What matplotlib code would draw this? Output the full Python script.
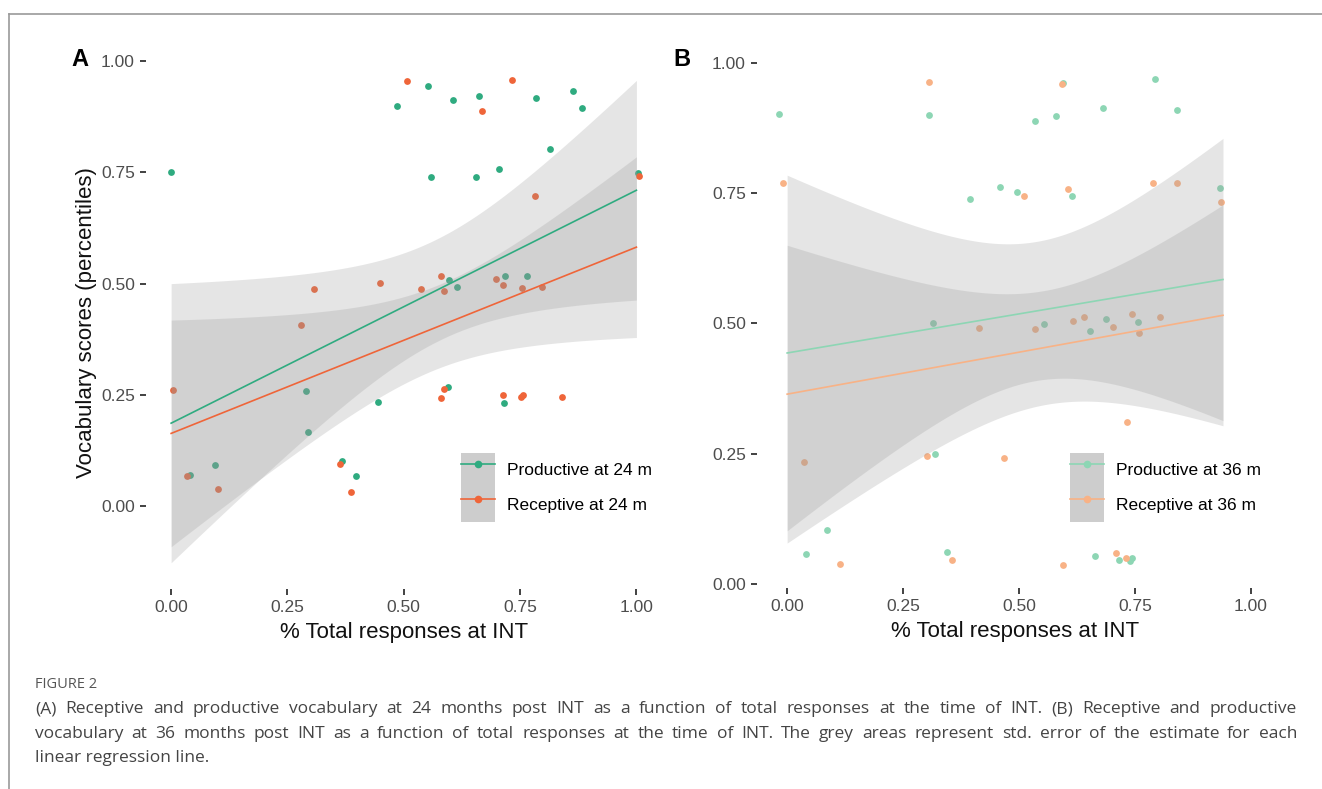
import numpy as np
import matplotlib.pyplot as plt
from matplotlib.patches import Patch
from matplotlib.lines import Line2D

plt.rcParams['font.family'] = ['Liberation Sans', 'DejaVu Sans']

# panel A: vocabulary at 24 months
a_prod_x = [0.000, 0.486, 0.552, 0.605, 0.662, 0.785, 0.864, 0.883, 0.815, 0.559, 0.656, 0.704, 1.003,
            0.597, 0.614, 0.717, 0.765, 0.290, 0.294, 0.041, 0.095, 0.367, 0.398, 0.444, 0.594, 0.715]
a_prod_y = [0.750, 0.900, 0.945, 0.912, 0.921, 0.918, 0.933, 0.894, 0.802, 0.740, 0.740, 0.758, 0.749,
            0.507, 0.493, 0.517, 0.517, 0.258, 0.167, 0.070, 0.091, 0.100, 0.067, 0.233, 0.267, 0.232]
a_rec_x = [0.508, 0.733, 0.668, 1.005, 0.782, 0.449, 0.307, 0.580, 0.538, 0.587, 0.698, 0.714, 0.754,
           0.797, 0.279, 0.005, 0.034, 0.101, 0.363, 0.386, 0.579, 0.586, 0.713, 0.753, 0.756, 0.840]
a_rec_y = [0.955, 0.958, 0.889, 0.743, 0.696, 0.502, 0.487, 0.516, 0.487, 0.484, 0.511, 0.497, 0.491,
           0.493, 0.407, 0.261, 0.067, 0.039, 0.095, 0.031, 0.243, 0.263, 0.249, 0.245, 0.249, 0.246]

# panel B: vocabulary at 36 months
b_prod_x = [-0.017, 0.305, 0.595, 0.794, 0.682, 0.840, 0.535, 0.580, 0.395, 0.458, 0.496, 0.615, 0.934,
            0.315, 0.318, 0.087, 0.041, 0.345, 0.554, 0.654, 0.688, 0.756, 0.663, 0.716, 0.739, 0.744]
b_prod_y = [0.902, 0.900, 0.962, 0.968, 0.913, 0.909, 0.888, 0.897, 0.739, 0.761, 0.751, 0.745, 0.759,
            0.500, 0.249, 0.104, 0.057, 0.061, 0.499, 0.485, 0.508, 0.503, 0.054, 0.045, 0.043, 0.049]
b_rec_x = [0.305, -0.008, 0.593, 0.511, 0.606, 0.790, 0.840, 0.935, 0.037, 0.301, 0.113, 0.356, 0.413,
           0.534, 0.617, 0.641, 0.703, 0.744, 0.759, 0.804, 0.734, 0.468, 0.595, 0.710, 0.730]
b_rec_y = [0.963, 0.769, 0.960, 0.744, 0.758, 0.770, 0.769, 0.733, 0.233, 0.246, 0.039, 0.045, 0.490,
           0.489, 0.505, 0.513, 0.493, 0.518, 0.482, 0.512, 0.311, 0.241, 0.036, 0.059, 0.050]

# fitted lines: intercept, slope, x range
# std. error band: half width = sqrt(a + b * (x - c)**2)
a_prod_fit = dict(icpt=0.186, slope=0.524, xr=(0.0, 1.0), a=0.0133, b=0.2607, c=0.572)
a_rec_fit = dict(icpt=0.163, slope=0.419, xr=(0.0, 1.0), a=0.0088, b=0.1742, c=0.568)
b_prod_fit = dict(icpt=0.443, slope=0.150, xr=(0.0, 0.94), a=0.0178, b=0.3421, c=0.537)
b_rec_fit = dict(icpt=0.364, slope=0.161, xr=(0.0, 0.94), a=0.0120, b=0.2246, c=0.557)

ticks = [0.00, 0.25, 0.50, 0.75, 1.00]
tick_labels = ['0.00', '0.25', '0.50', '0.75', '1.00']

caption_head = 'FIGURE 2'
caption_lines = [
    '(A) Receptive and productive vocabulary at 24 months post INT as a function of total responses at the time of INT. (B) Receptive and productive',
    'vocabulary at 36 months post INT as a function of total responses at the time of INT. The grey areas represent std. error of the estimate for each',
    'linear regression line.',
]

W, H = 1322, 789
fig = plt.figure(figsize=(W / 100, H / 100), dpi=100)

panels = [
    dict(rect=[146 / W, 1 - 589 / H, (662 - 146) / W, (589 - 56) / H], xlim=(-0.054, 1.055), ylim=(-0.187, 1.012),
         series=[(a_prod_x, a_prod_y, a_prod_fit, '#2fab80', 'Productive at 24 m'),
                 (a_rec_x, a_rec_y, a_rec_fit, '#ef6539', 'Receptive at 24 m')],
         letter='A', lx=80, leg=461, ylabel=True),
    dict(rect=[757 / W, 1 - 588 / H, (1274 - 757) / W, (588 - 57) / H], xlim=(-0.065, 1.05), ylim=(-0.008, 1.011),
         series=[(b_prod_x, b_prod_y, b_prod_fit, '#8dd6b4', 'Productive at 36 m'),
                 (b_rec_x, b_rec_y, b_rec_fit, '#f8b286', 'Receptive at 36 m')],
         letter='B', lx=682, leg=1070, ylabel=False),
]

for p in panels:
    ax = fig.add_axes(p['rect'])
    handles = []
    for x, y, f, c, lab in p['series']:
        ax.scatter(x, y, s=24, color=c, linewidths=0, zorder=2)
        xs = np.linspace(f['xr'][0], f['xr'][1], 120)
        fit = f['icpt'] + f['slope'] * xs
        hw = np.sqrt(f['a'] + f['b'] * (xs - f['c']) ** 2)
        ax.fill_between(xs, fit - hw, fit + hw, color='#999999', alpha=0.25, lw=0, zorder=3)
        ax.plot(xs, fit, color=c, lw=1.2, zorder=4)
        handles.append((Patch(facecolor='#cdcdcd', edgecolor='none'),
                        Line2D([], [], color=c, lw=1.2, marker='o', ms=5.5, mew=0)))
    ax.set_xlim(p['xlim'])
    ax.set_ylim(p['ylim'])
    ax.set_xticks(ticks, tick_labels)
    ax.set_yticks(ticks, tick_labels)
    ax.tick_params(length=4, width=1.3, color='#333333', labelcolor='#4d4d4d', labelsize=12.5, pad=4)
    for sp in ax.spines.values():
        sp.set_visible(False)
    ax.set_xlabel('% Total responses at INT', fontsize=16, color='#111111', labelpad=5)
    if p['ylabel']:
        ax.set_ylabel('Vocabulary scores (percentiles)', fontsize=16, color='#111111', labelpad=3)
    ax.legend(handles, [s[4] for s in p['series']], loc='upper left',
              bbox_to_anchor=(p['leg'] / W, 1 - 453 / H), bbox_transform=fig.transFigure,
              frameon=False, fontsize=12.5, borderpad=0, borderaxespad=0, labelspacing=0,
              handlelength=1.96, handleheight=2.68, handletextpad=0.7)
    fig.text(p['lx'] / W, 1 - 60 / H, p['letter'], ha='center', va='center', fontsize=17, weight='bold')

# outer frame lines
fig.add_artist(Line2D([9 / W, 1], [1 - 14 / H, 1 - 14 / H], transform=fig.transFigure, color='#9a9a9a', lw=1.2))
fig.add_artist(Line2D([9 / W, 9 / W], [0, 1 - 14 / H], transform=fig.transFigure, color='#9a9a9a', lw=1.2))

# caption
fig.text(35 / W, 1 - 685 / H, caption_head, fontsize=10.5, color='#555555', va='center', family='Open Sans')
renderer = fig.canvas.get_renderer()
cap_y = [709, 734, 758]
for i, line in enumerate(caption_lines):
    kw = dict(fontsize=12.5, color='#444444', va='center', family='Open Sans')
    if i == len(caption_lines) - 1:
        fig.text(35 / W, 1 - cap_y[i] / H, line, **kw)
        continue
    words = line.split()
    txts = [fig.text(0, 1 - cap_y[i] / H, w, **kw) for w in words]
    widths = [t.get_window_extent(renderer).width for t in txts]
    gap = (1297 - 35 - sum(widths)) / (len(words) - 1)
    xpos = 35
    for t, w in zip(txts, widths):
        t.set_x(xpos / W)
        xpos += w + gap

fig.savefig('out.png', dpi=100)
